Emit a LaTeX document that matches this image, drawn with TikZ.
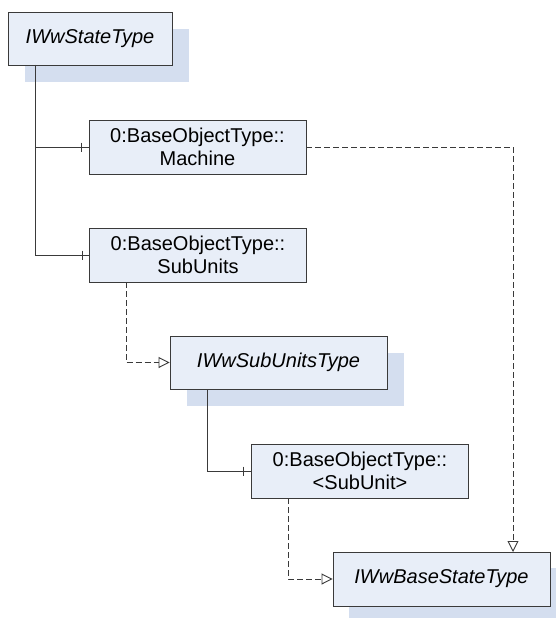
\documentclass[tikz,border=0pt]{standalone}
\usepackage{fontspec}
\setmainfont{Liberation Sans}
\usetikzlibrary{arrows.meta}
\definecolor{boxfill}{HTML}{E8EEF8}
\definecolor{shadowfill}{HTML}{D4DEEF}
\definecolor{edge}{HTML}{3A3A3A}
\begin{document}
\begin{tikzpicture}[x=1pt,y=-1pt,
  every node/.style={font=\fontsize{20}{22.5}\selectfont},
  typebox/.style={draw=edge, line width=0.9pt, fill=boxfill, inner sep=0pt,
    align=center, minimum width=217pt, minimum height=54pt},
  abstractbox/.style={typebox, font=\fontsize{20}{22.5}\selectfont\itshape},
  boxshadow/.style={fill=shadowfill, draw=none, inner sep=0pt,
    minimum width=217pt, minimum height=54pt},
  link/.style={draw=edge, line width=0.9pt},
  subtype/.style={link, dash pattern=on 6pt off 3pt,
    -{Triangle[open, length=11pt, width=11pt, fill=white]}},
  ref/.style={link},
  tickmark/.style={draw=edge, line width=0.9pt}
]
\useasboundingbox (0,0) rectangle (555,618);

% shadows of the abstract types
\node[boxshadow, minimum width=164pt, minimum height=53pt] (stS) at (107,55.5) {};
\node[boxshadow, minimum height=53pt] (sutS) at (295.5,379.5) {};
\node[boxshadow] (bstS) at (457.5,595) {};

% type boxes
\node[abstractbox, minimum width=164pt, minimum height=53pt] (st) at (90,38.5) {IWwStateType};
\node[typebox] (mach) at (197.5,147) {0:BaseObjectType::\\Machine};
\node[typebox] (sub) at (198,255) {0:BaseObjectType::\\SubUnits};
\node[abstractbox, minimum height=53pt] (sut) at (278.5,362.5) {IWwSubUnitsType};
\node[typebox] (su) at (360,471) {0:BaseObjectType::\\<SubUnit>};
\node[abstractbox] (bst) at (441.5,579) {IWwBaseStateType};

% component references
\coordinate (stA) at (35,65);
\draw[ref] (stA) |- (mach.west);
\draw[ref] (stA) |- (sub.west);
\coordinate (sutA) at (207,389);
\draw[ref] (sutA) |- (su.west);
\draw[tickmark] (mach.west) ++(-7,-4.5) -- ++(0,9);
\draw[tickmark] (sub.west) ++(-7,-4.5) -- ++(0,9);
\draw[tickmark] (su.west) ++(-8,-4.5) -- ++(0,9);

% type definitions
\coordinate (subA) at (126,282);
\draw[subtype] (subA) |- (sut.west);
\coordinate (suA) at (288,498);
\draw[subtype] (suA) |- (bst.west);
\coordinate (bstA) at (513,552);
\draw[subtype] (mach.east) -| (bstA);
\end{tikzpicture}
\end{document}
